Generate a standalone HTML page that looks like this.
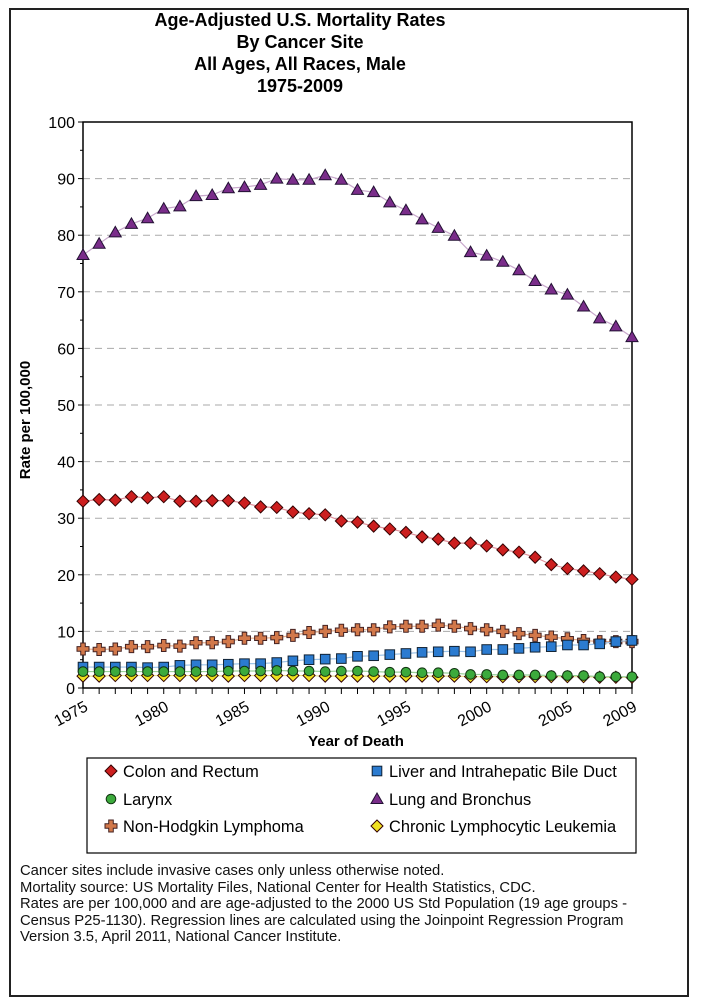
<!DOCTYPE html>
<html><head><meta charset="utf-8"><style>
body{margin:0;background:#fff;width:701px;height:1006px;overflow:hidden;font-family:"Liberation Sans",Arial,sans-serif;}
#frame{position:absolute;left:9px;top:8px;width:680px;height:989px;border:2px solid #222;box-sizing:border-box;}
.fn{position:absolute;left:20px;top:863px;font-size:14.8px;line-height:16.6px;color:#111;white-space:nowrap;}
</style></head><body>
<div id="frame"></div>
<svg id="chart" width="701" height="1006" style="position:absolute;left:0;top:0"></svg>
<div class="fn">Cancer sites include invasive cases only unless otherwise noted.<br>Mortality source: US Mortality Files, National Center for Health Statistics, CDC.<br>Rates are per 100,000 and are age-adjusted to the 2000 US Std Population (19 age groups -<br>Census P25-1130). Regression lines are calculated using the Joinpoint Regression Program<br>Version 3.5, April 2011, National Cancer Institute.</div>
<script>
const years=[];for(let y=1975;y<=2009;y++)years.push(y);
const yTicks=[0,10,20,30,40,50,60,70,80,90,100];
const xTickLabels=[1975,1980,1985,1990,1995,2000,2005,2009];
const lung=[76.5,78.5,80.5,82,83,84.7,85.1,86.9,87.1,88.3,88.5,88.9,90,89.8,89.8,90.6,89.8,88,87.6,85.8,84.4,82.8,81.3,79.9,77,76.4,75.3,73.8,71.9,70.4,69.5,67.4,65.3,63.9,62];
const colon=[33,33.3,33.2,33.8,33.6,33.8,33,33,33.1,33.1,32.7,32,31.9,31.1,30.8,30.6,29.5,29.3,28.6,28.1,27.5,26.7,26.3,25.6,25.6,25.1,24.4,24,23.1,21.8,21.1,20.7,20.2,19.6,19.2];
const nhl=[6.9,6.8,6.9,7.3,7.3,7.5,7.4,8,8,8.2,8.8,8.8,8.9,9.3,9.8,10,10.2,10.3,10.3,10.8,10.9,10.9,11.1,10.9,10.5,10.3,10,9.6,9.3,9,8.7,8.4,8.2,8.2,8.2];
const liver=[3.7,3.7,3.7,3.7,3.6,3.7,4,4.1,4.1,4.2,4.3,4.3,4.5,4.8,5,5.1,5.2,5.6,5.7,5.9,6.1,6.3,6.4,6.5,6.4,6.8,6.8,7,7.2,7.3,7.6,7.6,7.8,8.2,8.4];
const larynx=[2.9,2.9,2.9,2.9,2.9,2.9,2.9,2.9,2.9,3,3,3,3.1,3,3,2.9,3,3,2.9,2.8,2.8,2.7,2.7,2.6,2.4,2.4,2.3,2.3,2.3,2.2,2.2,2.2,2,2,2];
const cll=[2.1,2.1,2.2,2.2,2.2,2.2,2.2,2.2,2.2,2.1,2.2,2.2,2.2,2.2,2.2,2.1,2.1,2.1,2.1,2.1,2.1,2.1,2.1,2.1,2,2,2,2,2,2,2,2,1.9,1.9,1.9];
const svg=document.getElementById('chart');const NS='http://www.w3.org/2000/svg';
const X0=83,X1=632,Y0=688,Y1=122;
const xs=y=>X0+(y-1975)*(X1-X0)/34, ys=v=>Y0-v*(Y0-Y1)/100;
function el(t,a,p){const e=document.createElementNS(NS,t);for(const k in a)e.setAttribute(k,a[k]);(p||svg).appendChild(e);return e;}
function txt(s,a){const e=el('text',a);e.textContent=s;return e;}
const titles=['Age-Adjusted U.S. Mortality Rates','By Cancer Site','All Ages, All Races, Male','1975-2009'];
titles.forEach((t,i)=>{const e=txt(t,{x:300,y:26+i*22,'text-anchor':'middle','font-size':18,'font-weight':'bold'});

});
yTicks.forEach(v=>{if(v>0&&v<100){const g=el('line',{x1:X0,x2:X1,y1:ys(v),y2:ys(v),stroke:'#aaa','stroke-dasharray':'7,5'});

}
const t=txt(v,{x:X0-8,y:ys(v)+6,'text-anchor':'end','font-size':16});


el('line',{x1:X0-5,x2:X0,y1:ys(v),y2:ys(v),stroke:'#000'});
if(v<100)el('line',{x1:X0-3,x2:X0,y1:ys(v+5),y2:ys(v+5),stroke:'#000'});});
el('rect',{x:X0,y:Y1,width:X1-X0,height:Y0-Y1,fill:'none',stroke:'#000','stroke-width':1.5});
years.forEach(y=>el('line',{x1:xs(y),x2:xs(y),y1:Y0,y2:Y0+6,stroke:'#000'}));
xTickLabels.forEach(y=>{const t=txt(y,{x:xs(y)+6,y:Y0+22,'text-anchor':'end','font-size':16,transform:`rotate(-28 ${xs(y)+6} ${Y0+22})`});

});
const yt=txt('Rate per 100,000',{x:30,y:420,'text-anchor':'middle','font-size':15,'font-weight':'bold',transform:'rotate(-90 30 420)'});

const xt=txt('Year of Death',{x:356,y:746,'text-anchor':'middle','font-size':15,'font-weight':'bold'});

function marker(shape,cx,cy,fill,s){
 if(shape==='diamond')return el('polygon',{points:`${cx},${cy-s} ${cx+s},${cy} ${cx},${cy+s} ${cx-s},${cy}`,fill,stroke:'#300','stroke-width':1});
 if(shape==='square')return el('rect',{x:cx-s*0.8,y:cy-s*0.8,width:s*1.6,height:s*1.6,fill,stroke:'#123','stroke-width':1});
 if(shape==='circle')return el('circle',{cx,cy,r:s*0.8,fill,stroke:'#131','stroke-width':1});
 if(shape==='tri')return el('polygon',{points:`${cx},${cy-s} ${cx+s},${cy+s*0.75} ${cx-s},${cy+s*0.75}`,fill,stroke:'#213','stroke-width':1});
 if(shape==='plus'){const w=s*0.38;return el('path',{d:`M${cx-w},${cy-s}h${2*w}v${s-w}h${s-w}v${2*w}h${-(s-w)}v${s-w}h${-2*w}v${-(s-w)}h${-(s-w)}v${-2*w}h${s-w}z`,fill,stroke:'#422','stroke-width':1});}
}
const series=[[lung,'tri','#7a2d8a','#c8a8cc','lung'],[colon,'diamond','#cc1f1f','#e0909a','colon'],[nhl,'plus','#d2784a','#e8b090','nhl'],[liver,'square','#2b7bd0','#9ec4e8','liver'],[cll,'diamond','#f0e020','#eee090','cll'],[larynx,'circle','#3caa3c','#9ad09a','larynx']];
series.forEach(([d,sh,c,lc,n])=>{
 const pl=el('polyline',{points:d.map((v,i)=>xs(years[i])+','+ys(v)).join(' '),fill:'none',stroke:lc,'stroke-width':1.2});
 
 d.forEach((v,i)=>{const m=marker(sh,xs(years[i]),ys(v),c,6);
 
 });});
const lg=el('rect',{x:87,y:758,width:549,height:95,fill:'#fff',stroke:'#000','stroke-width':1.2});

const leg=[['Colon and Rectum','diamond','#cc1f1f',111,772],['Liver and Intrahepatic Bile Duct','square','#2b7bd0',377,772],['Larynx','circle','#3caa3c',111,800],['Lung and Bronchus','tri','#7a2d8a',377,800],['Non-Hodgkin Lymphoma','plus','#d2784a',111,827],['Chronic Lymphocytic Leukemia','diamond','#f0e020',377,827]];
leg.forEach(([l,sh,c,x,y])=>{const m=marker(sh,x,y-1,c,6);

const t=txt(l,{x:x+12,y:y+5,'font-size':16.4});
});
</script>
</body></html>
